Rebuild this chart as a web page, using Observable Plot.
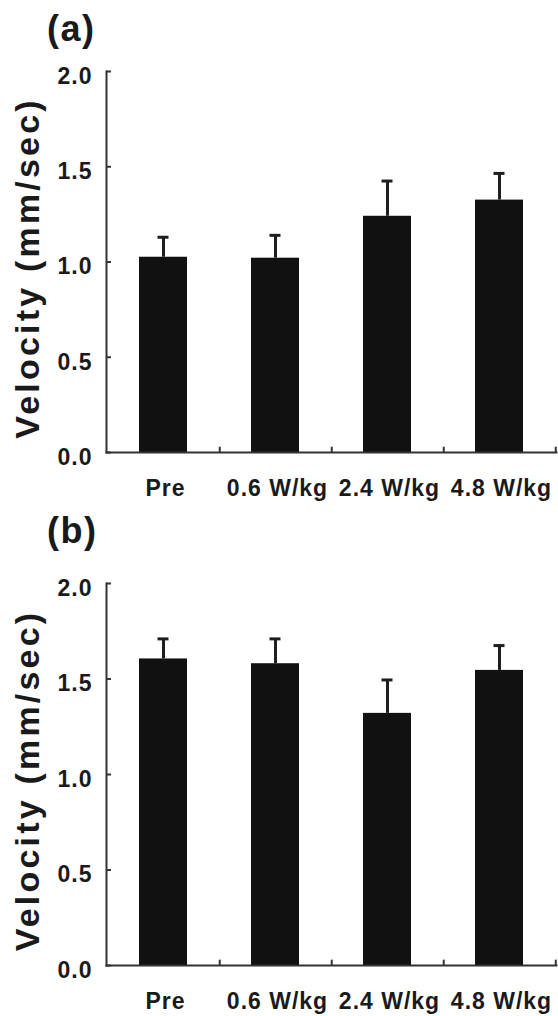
<!DOCTYPE html>
<html>
<head>
<meta charset="utf-8">
<script src="https://cdn.jsdelivr.net/npm/d3@7"></script>
<script src="https://cdn.jsdelivr.net/npm/@observablehq/plot@0.6"></script>
<style>
  html, body { margin: 0; padding: 0; background: #fff; }
  #page { position: relative; width: 558px; height: 1016px; overflow: hidden; font-family: "Liberation Sans", Arial, sans-serif; color: #1a1a1a; }
  .title { position: absolute; font-weight: bold; font-size: 36px; line-height: 1; letter-spacing: 1.5px; }
  .panel { position: absolute; left: 0; }
</style>
</head>
<body>
<div id="page">
  <div class="title" style="left:47px; top:11px;">(a)</div>
  <div class="panel" id="pa" style="top:50px;"></div>
  <div class="title" style="left:47px; top:513px;">(b)</div>
  <div class="panel" id="pb" style="top:560px;"></div>
</div>
<script>
const categories = ["Pre", "0.6 W/kg", "2.4 W/kg", "4.8 W/kg"];
const meanA = [1.025, 1.02, 1.24, 1.325];
const upperA = [1.13, 1.14, 1.425, 1.465];
const meanB = [1.605, 1.58, 1.32, 1.545];
const upperB = [1.71, 1.71, 1.495, 1.675];
const yTicks = [0, 0.5, 1.0, 1.5, 2.0];
const yLabel = "Velocity (mm/sec)";

function panel(means, uppers, height, marginTop, marginBottom) {
  const data = categories.map((c, i) => ({cat: c, mean: means[i], upper: uppers[i]}));
  const svg = Plot.plot({
    width: 558,
    height,
    marginLeft: 106,
    marginRight: 2,
    marginTop,
    marginBottom,
    style: {fontFamily: "'Liberation Sans', Arial, sans-serif", fontWeight: "bold", fontSize: "23px", color: "#1a1a1a", background: "white", letterSpacing: "1px", overflow: "visible"},
    x: {domain: categories, paddingInner: 0.573, paddingOuter: 0.2865},
    y: {domain: [0, 2]},
    marks: [
      Plot.barY(data, {x: "cat", y: "mean", fill: "#111"}),
      Plot.ruleX(data, {x: "cat", y1: "mean", y2: "upper", stroke: "#1e1e1e", strokeWidth: 3}),
      Plot.tickY(data, {x: "cat", y: "upper", stroke: "#1e1e1e", strokeWidth: 3, insetLeft: 18.5, insetRight: 18.5}),
      Plot.frame({anchor: "left", stroke: "#333", strokeWidth: 2}),
      Plot.frame({anchor: "bottom", stroke: "#333", strokeWidth: 2}),
      Plot.ruleX(categories, {x: d => d, y1: 0, y2: 0.028, dx: 56.25, stroke: "#333", strokeWidth: 2}),
      Plot.axisY(yTicks, {tickSize: -5, tickFormat: () => "", label: null, stroke: "#333", strokeWidth: 2}),
      Plot.axisY(yTicks, {tickSize: 0, tickPadding: 14, dy: 5, tickFormat: d3.format(".1f"), label: null, fontSize: 23, fontWeight: "bold"}),
      Plot.axisX({tickSize: 0, tickPadding: 27, dx: 2, label: null, fontSize: 23, fontWeight: "bold"}),
      Plot.text([yLabel], {text: d => d, frameAnchor: "left", textAnchor: "middle", lineAnchor: "middle", rotate: -90, dx: -78, dy: 6, fontSize: 34, fontWeight: "bold"})
    ]
  });
  d3.select(svg).selectAll("g[aria-label='text'] text").style("letter-spacing", "3.2px");
  return svg;
}

document.getElementById("pa").appendChild(panel(meanA, upperA, 457, 21, 55));
document.getElementById("pb").appendChild(panel(meanB, upperB, 456, 23, 51));
</script>
</body>
</html>
